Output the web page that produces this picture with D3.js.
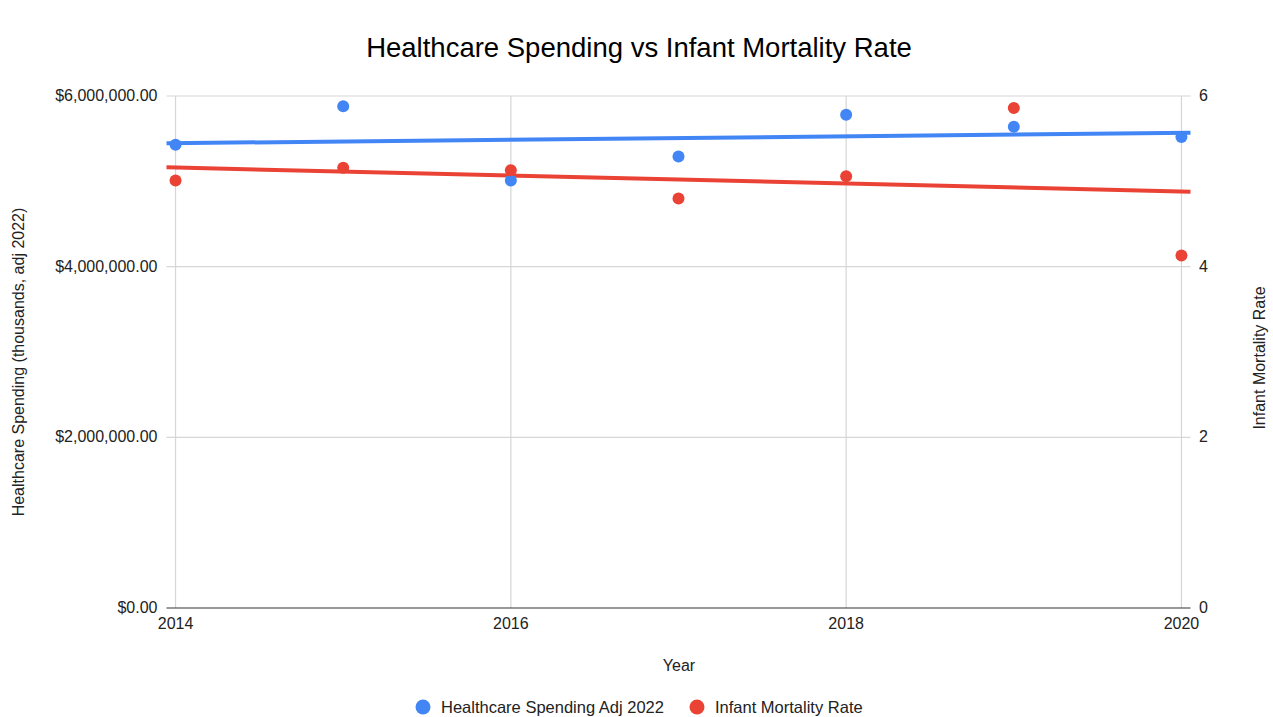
<!DOCTYPE html>
<html>
<head>
<meta charset="utf-8">
<script src="https://cdn.jsdelivr.net/npm/d3@7"></script>
<style>
  body { margin: 0; background: #fff; }
  text { font-family: "Liberation Sans", Arial, sans-serif; fill: #222; }
</style>
</head>
<body>
<div class="chart"></div>
<script>
// data
var years = [2014, 2015, 2016, 2017, 2018, 2019, 2020];
var spending = [5430000, 5880000, 5010000, 5290000, 5780000, 5640000, 5520000];
var mortality = [5.01, 5.16, 5.13, 4.80, 5.06, 5.86, 4.13];
var xTicks = [2014, 2016, 2018, 2020];
var leftTicks = [0, 2000000, 4000000, 6000000];
var rightTicks = [0, 2, 4, 6];
var seriesNames = ["Healthcare Spending Adj 2022", "Infant Mortality Rate"];
var colors = ["#4285f4", "#ea4335"];

var svgWidth = 1273;
var svgHeight = 717;
var fs = "16px";

var svg = d3.select(".chart")
  .append("svg")
  .attr("width", svgWidth)
  .attr("height", svgHeight);

var plot = { left: 166.5, right: 1190.5, top: 96, bottom: 608 };
var pad = 0.054;

var x = d3.scaleLinear().domain([2014 - pad, 2020 + pad]).range([plot.left, plot.right]);
var yL = d3.scaleLinear().domain([0, 6000000]).range([plot.bottom, plot.top]);
var yR = d3.scaleLinear().domain([0, 6]).range([plot.bottom, plot.top]);

// gridlines
svg.append("g")
  .selectAll("line")
  .data(leftTicks.slice(1))
  .enter()
  .append("line")
  .attr("x1", plot.left).attr("x2", plot.right)
  .attr("y1", d => yL(d)).attr("y2", d => yL(d))
  .attr("stroke", "#d6d6d6").attr("stroke-width", 1.2);

svg.append("g")
  .selectAll("line")
  .data(xTicks)
  .enter()
  .append("line")
  .attr("x1", d => x(d)).attr("x2", d => x(d))
  .attr("y1", plot.top).attr("y2", plot.bottom)
  .attr("stroke", "#d6d6d6").attr("stroke-width", 1.2);

// baseline
svg.append("line")
  .attr("x1", plot.left).attr("x2", plot.right)
  .attr("y1", yL(0)).attr("y2", yL(0))
  .attr("stroke", "#333").attr("stroke-width", 1.2);

// axis labels
var fmt = d3.format("$,.2f");
svg.append("g")
  .selectAll("text")
  .data(leftTicks)
  .enter()
  .append("text")
  .attr("x", 157.5)
  .attr("y", d => yL(d) + 5)
  .attr("text-anchor", "end")
  .style("font-size", fs)
  .text(d => fmt(d));

svg.append("g")
  .selectAll("text")
  .data(rightTicks)
  .enter()
  .append("text")
  .attr("x", 1199)
  .attr("y", d => yR(d) + 5)
  .style("font-size", fs)
  .text(d => d);

svg.append("g")
  .selectAll("text")
  .data(xTicks)
  .enter()
  .append("text")
  .attr("x", d => x(d))
  .attr("y", 629)
  .attr("text-anchor", "middle")
  .style("font-size", fs)
  .text(d => d);

// trendlines (least squares, like the sheet's linear trendline)
function fit(ys) {
  var mx = d3.mean(years), my = d3.mean(ys);
  var num = d3.sum(years, (v, i) => (v - mx) * (ys[i] - my));
  var den = d3.sum(years, v => (v - mx) * (v - mx));
  var b = num / den;
  return t => my + b * (t - mx);
}

var series = [
  { vals: spending, y: yL, color: colors[0] },
  { vals: mortality, y: yR, color: colors[1] }
];

series.forEach(function(s) {
  var f = fit(s.vals);
  svg.append("path")
    .datum(x.domain())
    .attr("fill", "none")
    .attr("stroke", s.color)
    .attr("stroke-width", 4)
    .attr("d", d3.line().x(d => x(d)).y(d => s.y(f(d))));
});

series.forEach(function(s) {
  svg.append("g")
    .selectAll("circle")
    .data(s.vals)
    .enter()
    .append("circle")
    .attr("cx", (d, i) => x(years[i]))
    .attr("cy", d => s.y(d))
    .attr("r", 6)
    .attr("fill", s.color);
});

// titles
svg.append("text")
  .attr("x", 639)
  .attr("y", 57)
  .attr("text-anchor", "middle")
  .style("font-size", "27.5px")
  .style("fill", "#000")
  .text("Healthcare Spending vs Infant Mortality Rate");

svg.append("text")
  .attr("transform", "translate(24, 362) rotate(-90)")
  .attr("text-anchor", "middle")
  .style("font-size", fs)
  .text("Healthcare Spending (thousands, adj 2022)");

svg.append("text")
  .attr("transform", "translate(1265, 358) rotate(-90)")
  .attr("text-anchor", "middle")
  .style("font-size", fs)
  .text("Infant Mortality Rate");

svg.append("text")
  .attr("x", 679)
  .attr("y", 671)
  .attr("text-anchor", "middle")
  .style("font-size", fs)
  .text("Year");

// legend
var legendX = [423, 697];
var legend = svg.append("g")
  .selectAll("g")
  .data(seriesNames)
  .enter()
  .append("g")
  .attr("transform", (d, i) => `translate(${legendX[i]}, 707)`);

legend.append("circle")
  .attr("r", 7.5)
  .attr("fill", (d, i) => colors[i]);

legend.append("text")
  .attr("x", 18)
  .attr("y", 6)
  .style("font-size", "16.5px")
  .text(d => d);
</script>
</body>
</html>
